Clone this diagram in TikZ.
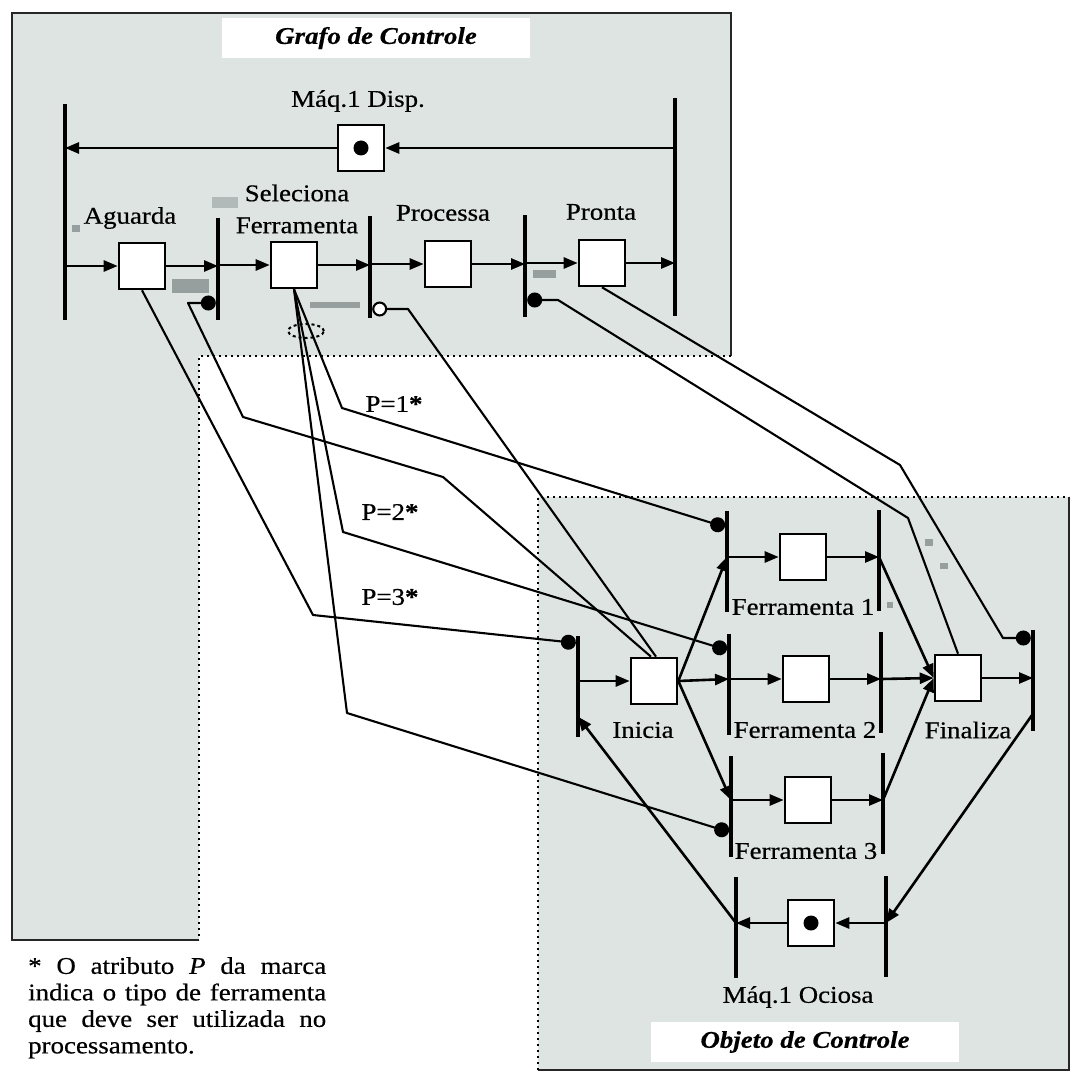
\documentclass[tikz,border=0pt]{standalone}
\usepackage{fontspec}
\setmainfont{Liberation Serif}[FakeStretch=1.12, FakeBold=0.5]
\usetikzlibrary{arrows.meta}
\definecolor{fundo}{RGB}{221,228,226}
\definecolor{mancha}{RGB}{150,158,158}

\begin{document}
\begin{tikzpicture}[x=1pt, y=-1pt, font=\fontsize{24}{27}\selectfont]
   \tikzstyle{plc} = [rectangle, draw, fill=white, line width=2.6pt,
                      minimum size=46pt, inner sep=0pt];
   \tikzstyle{trn} = [rectangle, fill=black, minimum width=4pt,
                      minimum height=101pt, inner sep=0pt];
   \tikzstyle{arc} = [black, line width=2.6pt,
                      -{Triangle[length=14pt,width=11pt]}];
   \tikzstyle{tst} = [black, line width=2.1pt, line join=round,
                      -{Circle[length=15pt]}];
   \tikzstyle{inb} = [black, line width=2.1pt, line join=round,
                      -{Circle[open,length=15pt,fill=white]}];
   \tikzstyle{pnt} = [black!85, line width=2.8pt];
   \tikzstyle{pnd} = [black, line width=2.6pt,
                      dash pattern=on 2pt off 4pt];
   \tikzstyle{ttl} = [fill=white, minimum width=308pt, minimum height=40pt,
                      font=\fontsize{24}{27}\selectfont\bfseries\itshape];

   \useasboundingbox (0,0) rectangle (1074,1075);

   %% panels
   \filldraw[pnt, fill=fundo] (12,13) rectangle (731,940);
   \fill[white] (199,356) rectangle (740,944);
   \draw[pnd] (731,356) -- (199,356) -- (199,940);

   \fill[fundo] (538,497) rectangle (1069,1070);
   \draw[pnt] (1069,497) -- (1069,1070) -- (538,1070);
   \draw[pnd] (538,1070) -- (538,497) -- (1069,497);

   \node[ttl] (tgc) at (376,38) {Grafo de Controle};
   \node[ttl] (toc) at (805,1042) {Objeto de Controle};

   % specks
   \fill[mancha] (172,279) rectangle (209,293);
   \fill[mancha] (310,302) rectangle (360,308);
   \fill[mancha] (533,270) rectangle (556,278);
   \fill[mancha] (72,225) rectangle (80,232);
   \fill[mancha!60!fundo] (212,197) rectangle (238,208);
   \fill[mancha] (925,539) rectangle (933,546);
   \fill[mancha] (940,563) rectangle (948,569);
   \fill[mancha] (887,602) rectangle (893,608);

    %% control graph
    \node[plc] (pdisp) at (361,148) {};
    \node[plc] (pag)   at (142,266) {};
    \node[plc] (psel)  at (294,265) {};
    \node[plc] (ppro)  at (448,264) {};
    \node[plc] (ppr)   at (602,263) {};

    \node[trn, minimum height=215pt] (tl) at (65,212) {};
    \node[trn, minimum height=218pt] (tr) at (675,207) {};
    \node[trn] (t2) at (218,269) {};
    \node[trn] (t3) at (370,267) {};
    \node[trn] (t4) at (525,266) {};

    \fill (pdisp) circle (7.5pt);

    \node (lmd)  at (358,101) {Máq.1 Disp.};
    \node (lag)  at (130,218) {Aguarda};
    \node[align=center] (lsel) at (297,209) {Seleciona\\[5pt]Ferramenta};
    \node (lpro) at (443,213) {Processa};
    \node (lpr)  at (601,212) {Pronta};

    \path[arc] (tr |- pdisp) edge (pdisp.east);
    \path[arc] (pdisp.west) edge (tl |- pdisp);

    \path[arc] (tl |- pag) edge (pag.west);
    \path[arc] (pag.east) edge (t2 |- pag);
    \path[arc] (t2 |- psel) edge (psel.west);
    \path[arc] (psel.east) edge (t3 |- psel);
    \path[arc] (t3 |- ppro) edge (ppro.west);
    \path[arc] (ppro.east) edge (t4 |- ppro);
    \path[arc] (t4 |- ppr) edge (ppr.west);
    \path[arc] (ppr.east) edge (tr |- ppr);

    \draw[black, line width=2pt, dash pattern=on 3pt off 3pt]
      (306,331) ellipse [x radius=18pt, y radius=7pt];

    %% control object
    \node[plc] (pini) at (654,681) {};
    \node[plc] (pf1)  at (803,557) {};
    \node[plc] (pf2)  at (806,679) {};
    \node[plc] (pf3)  at (808,800) {};
    \node[plc] (pfin) at (958,678) {};
    \node[plc] (poc)  at (811,923) {};

    \node[trn] (ti)  at (578,686) {};
    \node[trn] (f1a) at (727,561) {};
    \node[trn] (f2a) at (729,684) {};
    \node[trn] (f3a) at (731,806) {};
    \node[trn] (f1b) at (879,560) {};
    \node[trn] (f2b) at (881,682) {};
    \node[trn] (f3b) at (883,803) {};
    \node[trn] (tf)  at (1033,680) {};
    \node[trn] (o1)  at (736,927) {};
    \node[trn] (o2)  at (886,926) {};

    \fill (poc) circle (7.5pt);

    \node (lini) at (643,730) {Inicia};
    \node (lf1)  at (803,607) {Ferramenta 1};
    \node (lf2)  at (805,730) {Ferramenta 2};
    \node (lf3)  at (806,851) {Ferramenta 3};
    \node (lfin) at (968,730) {Finaliza};
    \node (loc)  at (798,997) {Máq.1 Ociosa};

    \path[arc] (ti |- pini) edge (pini.west);
    \path[arc] (pini.east) edge (f1a |- pf1);
    \path[arc] (pini.east) edge (f2a |- pf2);
    \path[arc] (pini.east) edge (f3a |- pf3);

    \path[arc] (f1a |- pf1) edge (pf1.west);
    \path[arc] (f2a |- pf2) edge (pf2.west);
    \path[arc] (f3a |- pf3) edge (pf3.west);
    \path[arc] (pf1.east) edge (f1b |- pf1);
    \path[arc] (pf2.east) edge (f2b |- pf2);
    \path[arc] (pf3.east) edge (f3b |- pf3);

    \path[arc] (f1b |- pf1) edge (pfin.west);
    \path[arc] (f2b |- pf2) edge (pfin.west);
    \path[arc] (f3b |- pf3) edge (pfin.west);
    \path[arc] (pfin.east) edge (tf |- pfin);

    \path[arc] ([yshift=17pt]tf.south) edge (o2 |- poc);
    \path[arc] (o2 |- poc) edge (poc.east);
    \path[arc] (poc.west) edge (o1 |- poc);
    \path[arc] (o1 |- poc) edge ([yshift=20pt]ti.south);

    %% links between the two nets
    \draw[tst] (pag.south) -- (313,615) -- (ti.west |- 0,643);
    \draw[tst] ([xshift=-3pt]pini.north) -- (443,477) -- (243,417)
      -- (188,303) -- (t2.west |- 0,303);
    \draw[inb] ([xshift=2pt]pini.north) -- (408,309) -- (t3.east |- 0,309);
    \draw[tst] (pfin.north) -- (908,518) -- (558,300) -- (t4.east |- 0,300);
    \draw[tst] (ppr.south) -- (900,465) -- (1003,638) -- (tf.west |- 0,638);

    \draw[tst] (psel.south) -- (342,408) -- (f1a.west |- 0,527);
    \draw[tst] (psel.south) -- (343,532) -- (f2a.west |- 0,650);
    \draw[tst] (psel.south) -- (347,713) -- (f3a.west |- 0,832);

    \node (lp1) at (394,404) {P=1\textbf{*}};
    \node (lp2) at (390,512) {P=2\textbf{*}};
    \node (lp3) at (390,597) {P=3\textbf{*}};

    % footnote, one box per line so the spaces stretch
    \node[anchor=north west, inner sep=0pt, text width=298pt,
          font=\fontsize{24}{26.5}\selectfont] (nota) at (28,957)
      {\makebox[298pt][s]{\spaceskip=0pt * O atributo \textit{P} da marca}\\
       \makebox[298pt][s]{\spaceskip=0pt indica o tipo de ferramenta}\\
       \makebox[298pt][s]{\spaceskip=0pt que deve ser utilizada no}\\
       processamento.};
\end{tikzpicture}
\end{document}
